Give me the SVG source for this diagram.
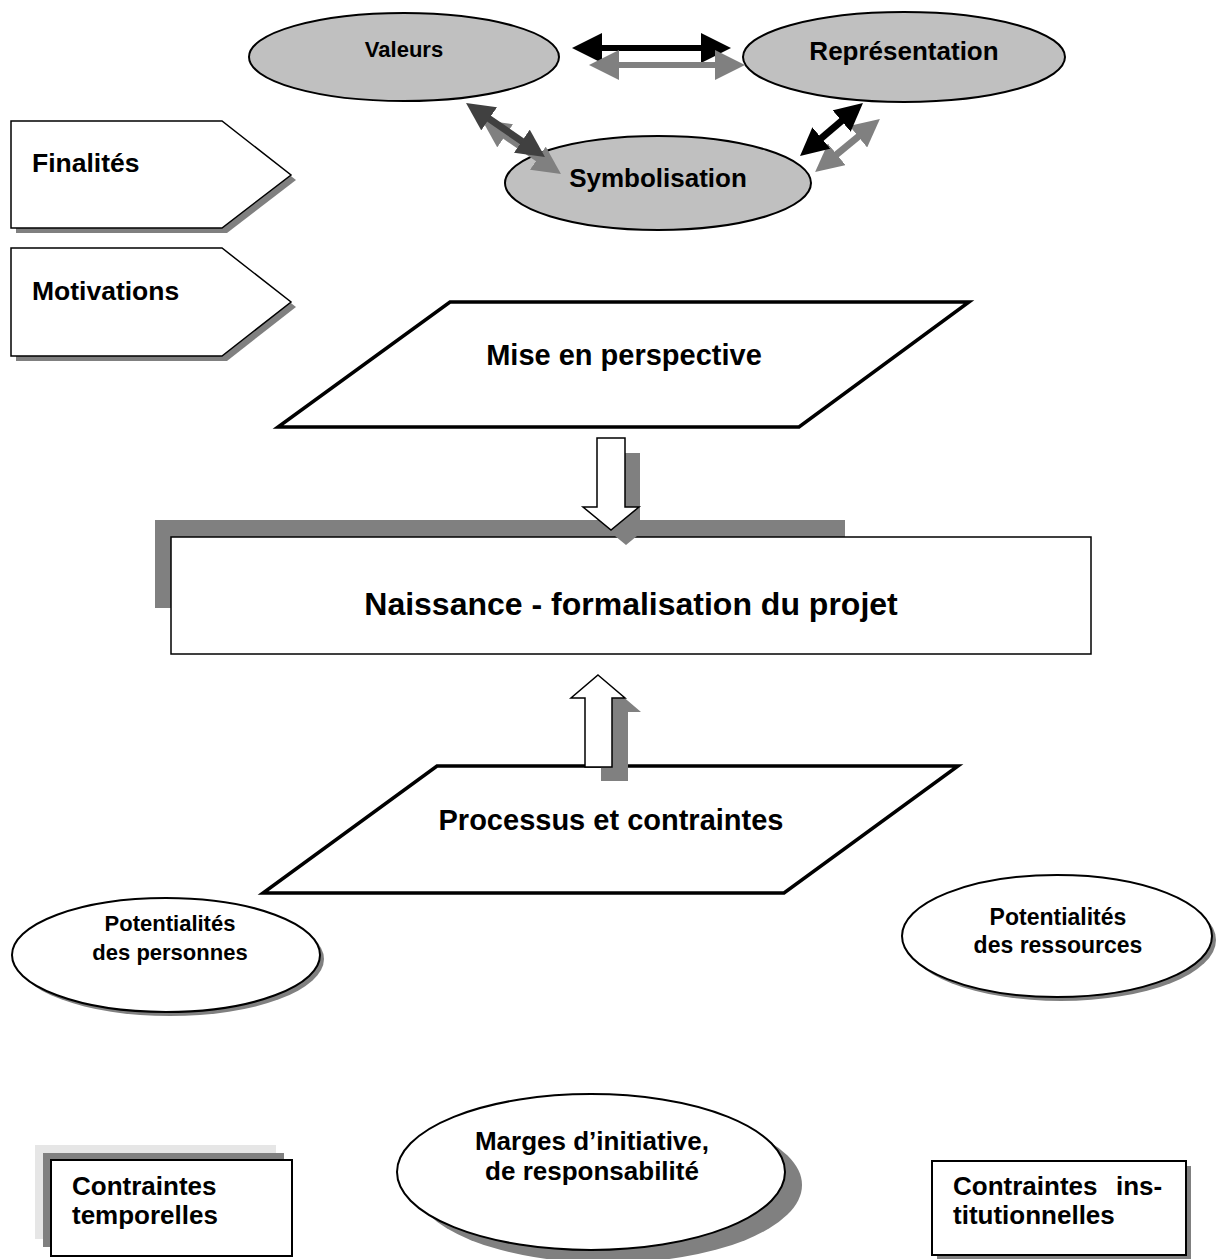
<svg xmlns="http://www.w3.org/2000/svg" width="1219" height="1259" viewBox="0 0 1219 1259">
<defs>
<style>
.t{font-family:"Liberation Sans",Arial,sans-serif;font-weight:bold;fill:#000}
.m{text-anchor:middle}
.w{fill:#fff;stroke:#000;stroke-width:2}
.g{fill:#c0c0c0;stroke:#000;stroke-width:2}
.sh{fill:#808080}
.pg{fill:#fff;stroke:#000;stroke-width:3.5;stroke-linejoin:miter}
.ho{fill:#fff;stroke:#000;stroke-width:1.5}
</style>
<marker id="hb" markerUnits="userSpaceOnUse" viewBox="0 0 30 30" markerWidth="30" markerHeight="30" refX="2" refY="15" orient="auto-start-reverse"><path d="M0,0 L30,15 L0,30z" fill="#000"/></marker>
<marker id="hg" markerUnits="userSpaceOnUse" viewBox="0 0 30 30" markerWidth="30" markerHeight="30" refX="2" refY="15" orient="auto-start-reverse"><path d="M0,0 L30,15 L0,30z" fill="#808080"/></marker>
<marker id="db" markerUnits="userSpaceOnUse" viewBox="0 0 28 28" markerWidth="28" markerHeight="28" refX="2" refY="14" orient="auto-start-reverse"><path d="M0,0 L28,14 L0,28z" fill="#000"/></marker>
<marker id="dd" markerUnits="userSpaceOnUse" viewBox="0 0 28 28" markerWidth="28" markerHeight="28" refX="2" refY="14" orient="auto-start-reverse"><path d="M0,0 L28,14 L0,28z" fill="#404040"/></marker>
<marker id="dg" markerUnits="userSpaceOnUse" viewBox="0 0 28 28" markerWidth="28" markerHeight="28" refX="2" refY="14" orient="auto-start-reverse"><path d="M0,0 L28,14 L0,28z" fill="#808080"/></marker>
</defs>

<g id="valeurs">
<ellipse class="g" cx="404" cy="57" rx="155" ry="44"/>
<text class="t m" x="404" y="57" font-size="22">Valeurs</text>
</g>
<g id="representation">
<ellipse class="g" cx="904" cy="57" rx="161" ry="45"/>
<text class="t m" x="904" y="60" font-size="26">Représentation</text>
</g>
<g id="symbolisation">
<ellipse class="g" cx="658" cy="183" rx="153" ry="47"/>
<text class="t m" x="658" y="187" font-size="26">Symbolisation</text>
</g>

<g id="connectors">
<line x1="600" y1="48" x2="703" y2="48" stroke="#000" stroke-width="6" marker-start="url(#hb)" marker-end="url(#hb)"/>
<line x1="617" y1="65" x2="717" y2="65" stroke="#808080" stroke-width="6" marker-start="url(#hg)" marker-end="url(#hg)"/>
<line x1="503.5" y1="134.7" x2="539.5" y2="159.3" stroke="#808080" stroke-width="7" marker-start="url(#dg)" marker-end="url(#dg)"/>
<line x1="487.5" y1="117.7" x2="523.5" y2="142.3" stroke="#404040" stroke-width="7" marker-start="url(#dd)" marker-end="url(#dd)"/>
<line x1="859.8" y1="135.4" x2="835.2" y2="155.6" stroke="#808080" stroke-width="7" marker-start="url(#dg)" marker-end="url(#dg)"/>
<line x1="843.1" y1="119.7" x2="819.9" y2="139.3" stroke="#000" stroke-width="7" marker-start="url(#db)" marker-end="url(#db)"/>
</g>

<g id="finalites">
<polygon class="sh" points="16,126 227,126 296,180 227,233 16,233"/>
<polygon class="ho" points="11,121 222,121 291,175 222,228 11,228"/>
<text class="t" x="32" y="172" font-size="26.5">Finalités</text>
</g>
<g id="motivations">
<polygon class="sh" points="16,253 227,253 296,307 227,361 16,361"/>
<polygon class="ho" points="11,248 222,248 291,302 222,356 11,356"/>
<text class="t" x="32" y="300" font-size="26.5">Motivations</text>
</g>

<g id="mise-en-perspective">
<polygon class="pg" points="450,302 969,302 799,427 278,427"/>
<text class="t m" x="624" y="365" font-size="29">Mise en perspective</text>
</g>

<g id="naissance">
<rect class="sh" x="155" y="520" width="690" height="88"/>
<rect class="ho" x="171" y="537" width="920" height="117"/>
<text class="t m" x="631" y="615" font-size="32">Naissance - formalisation du projet</text>
</g>

<g id="fleche-bas">
<polygon class="sh" points="612,453 640,453 640,522 654,522 626,545 598,522 612,522"/>
<polygon class="ho" points="597,438 625,438 625,507 639,507 611,530 583,507 597,507"/>
</g>

<g id="processus">
<polygon class="pg" points="437,766 958,766 784,893 263,893"/>
<text class="t m" x="611" y="830" font-size="29">Processus et contraintes</text>
</g>

<g id="fleche-haut">
<polygon class="sh" points="614,689 641,712 628,712 628,781 601,781 601,712 587,712"/>
<polygon class="ho" points="598,675 625,698 612,698 612,767 585,767 585,698 571,698"/>
</g>

<g id="potentialites-personnes">
<ellipse class="sh" cx="170" cy="959" rx="154" ry="57"/>
<ellipse class="w" cx="166" cy="955" rx="154" ry="57"/>
<text class="t m" x="170" y="931" font-size="22">Potentialités</text>
<text class="t m" x="170" y="960" font-size="22">des personnes</text>
</g>

<g id="potentialites-ressources">
<ellipse class="sh" cx="1061" cy="940" rx="155" ry="61"/>
<ellipse class="w" cx="1057" cy="936" rx="155" ry="61"/>
<text class="t m" x="1058" y="925" font-size="23">Potentialités</text>
<text class="t m" x="1058" y="953" font-size="23">des ressources</text>
</g>

<g id="marges">
<ellipse class="sh" cx="608" cy="1185" rx="194" ry="78"/>
<ellipse class="w" cx="591" cy="1172" rx="194" ry="78"/>
<text class="t m" x="592" y="1150" font-size="26">Marges d’initiative,</text>
<text class="t m" x="592" y="1180" font-size="26">de responsabilité</text>
</g>

<g id="contraintes-temporelles">
<rect x="35" y="1145" width="241" height="94" fill="#e6e6e6"/>
<rect class="sh" x="43" y="1153" width="241" height="94"/>
<rect class="w" x="51" y="1160" width="241" height="96"/>
<text class="t" x="72" y="1195" font-size="26">Contraintes</text>
<text class="t" x="72" y="1224" font-size="26">temporelles</text>
</g>

<g id="contraintes-institutionnelles">
<rect class="sh" x="937" y="1166" width="254" height="94"/>
<rect class="w" x="932" y="1161" width="254" height="94"/>
<text class="t" x="953" y="1195" font-size="26" xml:space="preserve" word-spacing="2">Contraintes  ins-</text>
<text class="t" x="953" y="1224" font-size="26">titutionnelles</text>
</g>
</svg>
